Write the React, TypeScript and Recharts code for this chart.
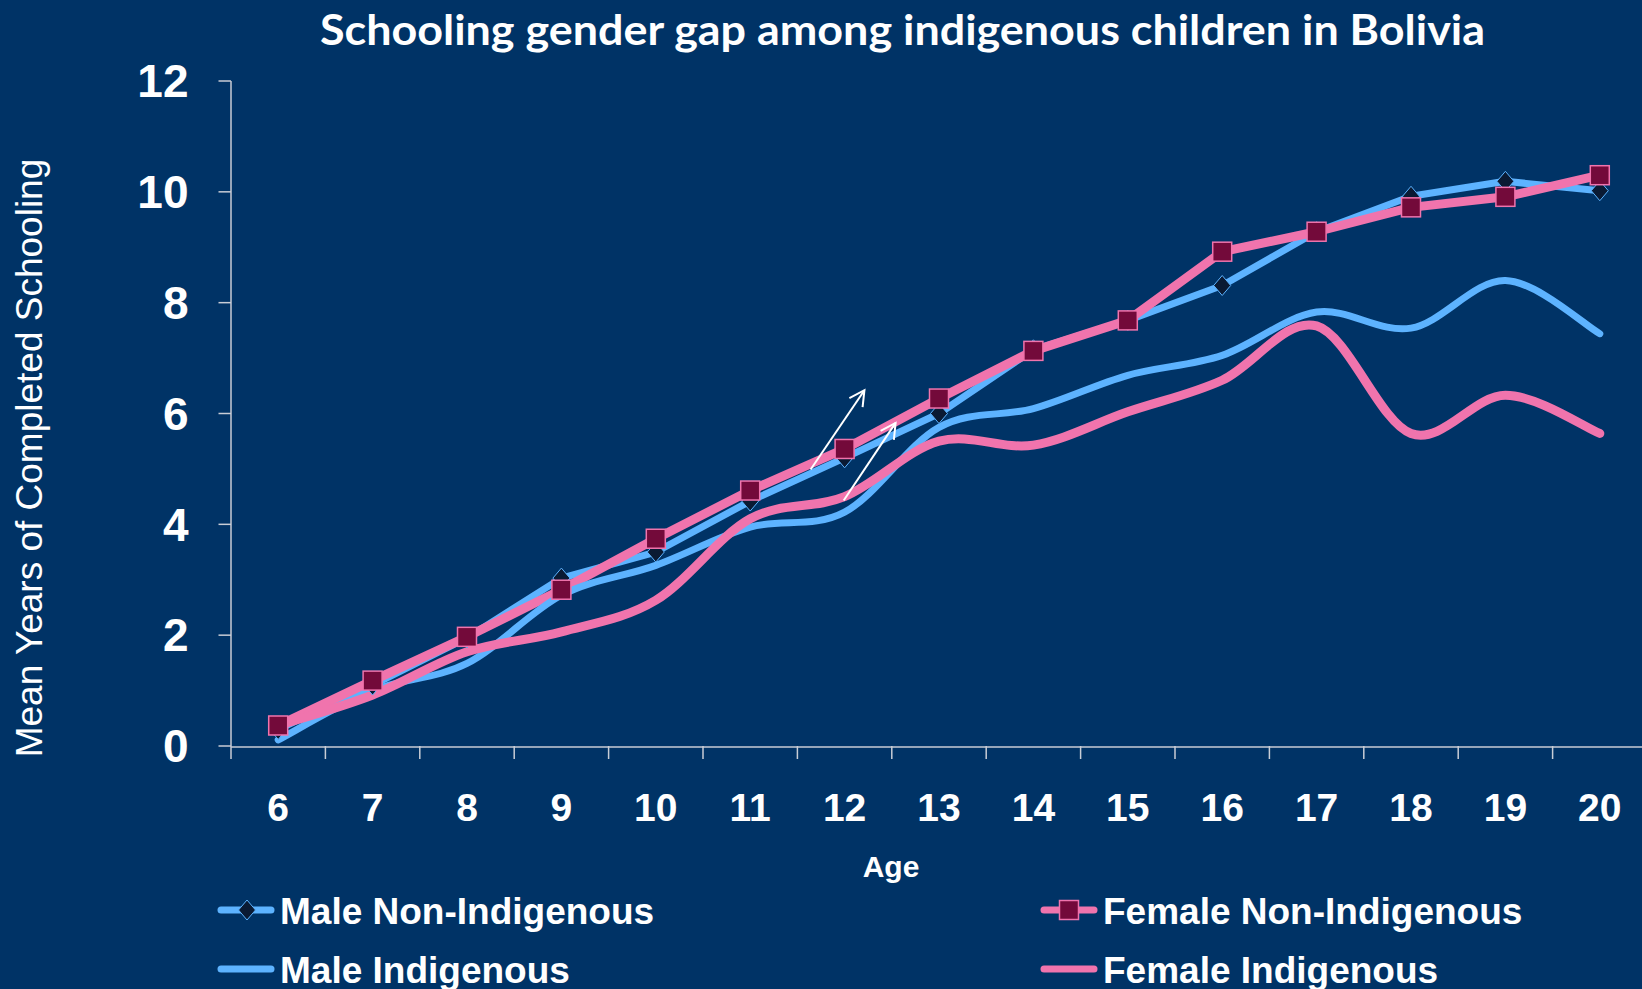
import React from 'react'
import { LineChart, Line, XAxis, YAxis, ReferenceLine, Legend } from 'recharts'

// values (mean years of completed schooling by age)
const ages = [6, 7, 8, 9, 10, 11, 12, 13, 14, 15, 16, 17, 18, 19, 20]
const maleNonIndigenous = [0.3, 1.1, 1.95, 3.03, 3.5, 4.42, 5.2, 6.0, 7.15, 7.68, 8.31, 9.28, 9.92, 10.19, 10.02]
const femaleNonIndigenous = [0.37, 1.18, 1.97, 2.82, 3.74, 4.61, 5.36, 6.27, 7.13, 7.68, 8.92, 9.28, 9.72, 9.91, 10.3]
const maleIndigenous = [0.11, 1.0, 1.49, 2.72, 3.26, 3.95, 4.22, 5.75, 6.09, 6.69, 7.05, 7.83, 7.54, 8.4, 7.44]
const femaleIndigenous = [0.37, 0.92, 1.7, 2.06, 2.63, 4.1, 4.5, 5.5, 5.43, 6.03, 6.6, 7.58, 5.64, 6.33, 5.64]

const yTicks = [0, 2, 4, 6, 8, 10, 12]
// tick marks sit between the age categories
const ageBoundaries = [5.5, 6.5, 7.5, 8.5, 9.5, 10.5, 11.5, 12.5, 13.5, 14.5, 15.5, 16.5, 17.5, 18.5, 19.5, 20.5]

// the two annotation arrows, in data units (age, years)
const arrows = [
  { from: { x: 11.64, y: 4.99 }, to: { x: 12.21, y: 6.42 } },
  { from: { x: 11.99, y: 4.43 }, to: { x: 12.54, y: 5.83 } },
]

const BG = '#003366'
const BLUE = '#5DB3FF'
const PINK = '#F074AD'
const MAROON = '#730A3A'
const NAVY = '#0A1A33'
const AXIS = '#C8CDD6'
const FONT = "'Liberation Sans', Arial, sans-serif"

const data = ages.map((age, i) => ({
  age,
  mni: maleNonIndigenous[i],
  fni: femaleNonIndigenous[i],
  mi: maleIndigenous[i],
  fi: femaleIndigenous[i],
}))

const series = [
  { key: 'mni', name: 'Male Non-Indigenous', color: BLUE, marker: 'diamond' },
  { key: 'fni', name: 'Female Non-Indigenous', color: PINK, marker: 'square' },
  { key: 'mi', name: 'Male Indigenous', color: BLUE, marker: 'none' },
  { key: 'fi', name: 'Female Indigenous', color: PINK, marker: 'none' },
]

// Excel-like smoothed line (Catmull-Rom through the points)
function excelSmooth(context: any) {
  let pts: number[][] = []
  return {
    areaStart() {},
    areaEnd() {},
    lineStart() {
      pts = []
    },
    point(x: number, y: number) {
      pts.push([+x, +y])
    },
    lineEnd() {
      const n = pts.length
      if (!n) return
      context.moveTo(pts[0][0], pts[0][1])
      for (let i = 0; i < n - 1; i++) {
        const p0 = pts[i === 0 ? 0 : i - 1]
        const p1 = pts[i]
        const p2 = pts[i + 1]
        const p3 = pts[i + 2 < n ? i + 2 : n - 1]
        context.bezierCurveTo(
          p1[0] + (p2[0] - p0[0]) / 6,
          p1[1] + (p2[1] - p0[1]) / 6,
          p2[0] - (p3[0] - p1[0]) / 6,
          p2[1] - (p3[1] - p1[1]) / 6,
          p2[0],
          p2[1]
        )
      }
    },
  }
}

function Diamond({ cx, cy }: { cx: number; cy: number }) {
  return (
    <polygon
      points={`${cx},${cy - 10} ${cx + 8.5},${cy} ${cx},${cy + 10} ${cx - 8.5},${cy}`}
      fill={NAVY}
      stroke={BLUE}
      strokeWidth={1}
    />
  )
}

function Square({ cx, cy }: { cx: number; cy: number }) {
  return <rect x={cx - 9.5} y={cy - 9.5} width={19} height={19} fill={MAROON} stroke={PINK} strokeWidth={1.5} />
}

const renderDiamondDot = (props: any) => {
  if (props.cx == null || props.cy == null) return <g key={`d-${props.index}`} />
  return <Diamond key={`d-${props.index}`} cx={props.cx} cy={props.cy} />
}

const renderSquareDot = (props: any) => {
  if (props.cx == null || props.cy == null) return <g key={`s-${props.index}`} />
  return <Square key={`s-${props.index}`} cx={props.cx} cy={props.cy} />
}

const renderArrow = (props: any) => {
  const { x1, y1, x2, y2 } = props
  const ang = Math.atan2(y2 - y1, x2 - x1)
  const len = 17
  const spread = (28 * Math.PI) / 180
  const a1x = x2 - len * Math.cos(ang - spread)
  const a1y = y2 - len * Math.sin(ang - spread)
  const a2x = x2 - len * Math.cos(ang + spread)
  const a2y = y2 - len * Math.sin(ang + spread)
  return (
    <g>
      <line x1={x1} y1={y1} x2={x2} y2={y2} stroke="#fff" strokeWidth={2} />
      <polyline
        points={`${a1x},${a1y} ${x2},${y2} ${a2x},${a2y}`}
        fill="none"
        stroke="#fff"
        strokeWidth={2}
        strokeLinejoin="miter"
      />
    </g>
  )
}

const emptyTick = () => <g />

// legend laid out like the original: two columns, two rows
const legendCols = [217, 1040]
const legendRows = [50, 109]

const renderLegend = () => (
  <svg width={1642} height={129} style={{ display: 'block' }}>
    {series.map((s, i) => {
      const x = legendCols[i % 2]
      const y = legendRows[Math.floor(i / 2)]
      return (
        <g key={s.key}>
          <line x1={x + 4} y1={y} x2={x + 54} y2={y} stroke={s.color} strokeWidth={7} strokeLinecap="round" />
          {s.marker === 'diamond' && <Diamond cx={x + 30} cy={y} />}
          {s.marker === 'square' && <Square cx={x + 29} cy={y} />}
          <text x={x + 63} y={y + 13.5} fill="#fff" fontFamily={FONT} fontWeight="bold" fontSize={37}>
            {s.name}
          </text>
        </g>
      )
    })}
  </svg>
)

export default function App() {
  return (
    <div
      style={{
        position: 'absolute',
        left: 0,
        top: 0,
        width: 1642,
        height: 989,
        overflow: 'hidden',
        background: BG,
      }}
    >
      <LineChart width={1660} height={989} data={data} margin={{ top: 81, right: 13, left: 0, bottom: 241 }}>
        <XAxis
          xAxisId="main"
          type="number"
          dataKey="age"
          domain={[5.5, 20.5]}
          ticks={ages}
          interval={0}
          tickLine={false}
          tickSize={13}
          tickMargin={33.5}
          axisLine={{ stroke: AXIS, strokeWidth: 1.5 }}
          tick={{ fill: '#fff', fontFamily: FONT, fontWeight: 'bold', fontSize: 39 }}
          height={1}
        />
        <XAxis
          xAxisId="bounds"
          type="number"
          dataKey="age"
          domain={[5.5, 20.5]}
          ticks={ageBoundaries}
          interval={0}
          tick={emptyTick}
          tickLine={{ stroke: AXIS, strokeWidth: 1.5 }}
          tickSize={13}
          axisLine={false}
          height={1}
        />
        <YAxis
          type="number"
          domain={[0, 12]}
          ticks={yTicks}
          interval={0}
          width={231}
          tickSize={12.5}
          tickMargin={30}
          axisLine={{ stroke: AXIS, strokeWidth: 1.5 }}
          tickLine={{ stroke: AXIS, strokeWidth: 1.5 }}
          tick={{ fill: '#fff', fontFamily: FONT, fontWeight: 'bold', fontSize: 46 }}
        />
        <Legend verticalAlign="middle" layout="horizontal" content={renderLegend} wrapperStyle={{ left: 0, top: 860, width: 1642, height: 129 }} />
        <Line
          xAxisId="main"
          dataKey="mni"
          name="Male Non-Indigenous"
          type="linear"
          stroke={BLUE}
          strokeWidth={7}
          strokeLinecap="round"
          strokeLinejoin="round"
          dot={renderDiamondDot}
          activeDot={false}
          isAnimationActive={false}
        />
        <Line
          xAxisId="main"
          dataKey="fni"
          name="Female Non-Indigenous"
          type="linear"
          stroke={PINK}
          strokeWidth={9}
          strokeLinecap="round"
          strokeLinejoin="round"
          dot={renderSquareDot}
          activeDot={false}
          isAnimationActive={false}
        />
        <Line
          xAxisId="main"
          dataKey="mi"
          name="Male Indigenous"
          type={excelSmooth as any}
          stroke={BLUE}
          strokeWidth={7}
          strokeLinecap="round"
          dot={false}
          activeDot={false}
          isAnimationActive={false}
        />
        <Line
          xAxisId="main"
          dataKey="fi"
          name="Female Indigenous"
          type={excelSmooth as any}
          stroke={PINK}
          strokeWidth={9}
          strokeLinecap="round"
          dot={false}
          activeDot={false}
          isAnimationActive={false}
        />
        {arrows.map((a, i) => (
          <ReferenceLine
            key={`arrow-${i}`}
            xAxisId="main"
            segment={[a.from, a.to]}
            shape={renderArrow}
            ifOverflow="visible"
          />
        ))}
      </LineChart>
      <svg
        width={1642}
        height={989}
        style={{ position: 'absolute', left: 0, top: 0, pointerEvents: 'none' }}
      >
        <text
          x={320}
          y={45}
          textLength={1165}
          lengthAdjust="spacingAndGlyphs"
          fill="#fff"
          fontFamily="Lato, 'Open Sans', sans-serif"
          fontWeight="bold"
          fontSize={42}
        >
          Schooling gender gap among indigenous children in Bolivia
        </text>
        <text
          transform="translate(41.5,458) rotate(-90)"
          textAnchor="middle"
          fill="#fff"
          fontFamily={FONT}
          fontSize={37}
        >
          Mean Years of Completed Schooling
        </text>
        <text x={891} y={877} textAnchor="middle" fill="#fff" fontFamily={FONT} fontWeight="bold" fontSize={30}>
          Age
        </text>
      </svg>
    </div>
  )
}
